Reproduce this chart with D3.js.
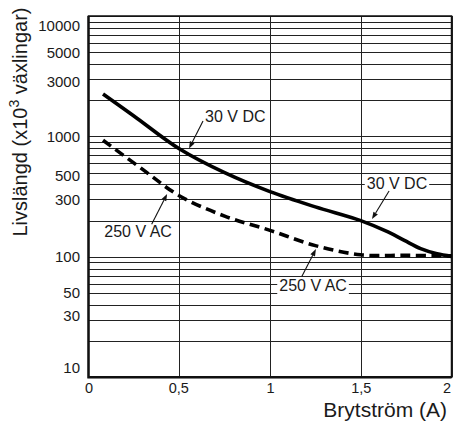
<!DOCTYPE html>
<html>
<head>
<meta charset="utf-8">
<script src="https://cdn.jsdelivr.net/npm/d3@7"></script>
<style>
  html, body { margin: 0; padding: 0; background: #fff; }
  svg { display: block; }
  text { font-family: "Liberation Sans", Arial, Helvetica, sans-serif; fill: #1a1a1a; }
</style>
</head>
<body>
<svg id="chart" width="454" height="423"></svg>
<script>
// Contact life versus switched current
const currentDC = [0.08, 0.25, 0.5, 0.75, 1.0, 1.25, 1.5, 1.65, 1.74, 1.83, 1.92, 2.0];
const life30VDC = [2250, 1480, 790, 500, 348, 260, 200, 161, 137, 117, 106, 101];

const currentAC = [0.08, 0.3, 0.5, 0.75, 1.0, 1.25, 1.5, 1.75, 2.0];
const life250VAC = [930, 530, 322, 218, 166, 124, 104, 103, 102];

const xTickValues = [0, 0.5, 1, 1.5, 2];
const yTickValues = [10, 30, 50, 100, 300, 500, 1000, 3000, 5000, 10000];

// Callouts: text at (x, value), leader from (x, value) to arrow tip (x, value)
const callouts = [
  { text: "30 V DC",  at: [0.642, 1318], from: [0.631, 1343], to: [0.554, 795] },
  { text: "30 V DC",  at: [1.533, 366],  from: [1.656, 352],  to: [1.562, 206] },
  { text: "250 V AC", at: [0.087, 146],  from: [0.348, 187],  to: [0.433, 333] },
  { text: "250 V AC", at: [1.051, 52],   from: [1.176, 69],   to: [1.253, 116] }
];

const svg = d3.select("#chart");
const W = 454, H = 423;
const margin = { top: 16, right: 2.5, bottom: 45.7, left: 88.5 };

const x = d3.scaleLinear().domain([0, 2]).range([margin.left, W - margin.right]);
const y = d3.scaleLog().domain([10, 10000]).range([H - margin.bottom, margin.top]);

// Grid
const grid = svg.append("g").attr("stroke", "#222").attr("stroke-width", 1);
grid.selectAll("line.h").data(y.ticks()).join("line")
  .attr("class", "h")
  .attr("x1", x(0)).attr("x2", x(2))
  .attr("y1", d => Math.round(y(d)) + 0.5).attr("y2", d => Math.round(y(d)) + 0.5);
grid.selectAll("line.v").data(xTickValues.slice(1)).join("line")
  .attr("class", "v")
  .attr("y1", y(10000)).attr("y2", y(10))
  .attr("x1", d => Math.round(x(d)) + 0.5).attr("x2", d => Math.round(x(d)) + 0.5);

// Frame
svg.append("rect")
  .attr("x", x(0)).attr("y", y(10000))
  .attr("width", x(2) - x(0)).attr("height", y(10) - y(10000))
  .attr("fill", "none").attr("stroke", "#111").attr("stroke-width", 1.5);
svg.append("path")
  .attr("d", `M${x(0)},${y(10000)}V${y(10)}H${x(2)}`)
  .attr("fill", "none").attr("stroke", "#111").attr("stroke-width", 2.4);

// Axes
const fmtX = d => d3.format("")(d).replace(".", ",");
const xAxis = svg.append("g")
  .attr("transform", `translate(0,${y(10)})`)
  .call(d3.axisBottom(x).tickValues(xTickValues).tickFormat(fmtX).tickSize(0).tickPadding(5));
xAxis.select(".domain").remove();
xAxis.selectAll("text").attr("font-size", 14.5).style("fill", "#1a1a1a")
  .attr("dx", d => d === 2 ? -5 : d === 0.5 ? -1 : 0);

const yAxis = svg.append("g")
  .attr("transform", `translate(${x(0)},0)`)
  .call(d3.axisLeft(y).tickValues(yTickValues).tickFormat(d3.format("d")).tickSize(0).tickPadding(8.5));
yAxis.select(".domain").remove();
yAxis.selectAll("text").attr("font-size", 15).style("fill", "#1a1a1a")
  .attr("dy", d => d === 10000 ? "0.95em" : d === 10 ? "-0.35em" : d === 3000 || d === 500 ? "0.5em" : d === 30 ? "0.05em" : "0.32em");

// Axis titles
svg.append("text")
  .attr("x", W - 7).attr("y", 416.5)
  .attr("text-anchor", "end").attr("font-size", 21)
  .text("Brytström (A)");

const yTitle = svg.append("text")
  .attr("transform", `translate(27,122) rotate(-90)`)
  .attr("text-anchor", "middle").attr("font-size", 20);
yTitle.append("tspan").text("Livslängd (x10");
yTitle.append("tspan").attr("font-size", 14).attr("dy", -8).text("3");
yTitle.append("tspan").attr("dy", 8).text(" växlingar)");

// Curves
const line = d3.line().x(d => x(d[0])).y(d => y(d[1])).curve(d3.curveCatmullRom.alpha(0.5));
svg.append("path")
  .datum(d3.zip(currentAC, life250VAC))
  .attr("d", line)
  .attr("fill", "none").attr("stroke", "#000").attr("stroke-width", 3.6)
  .attr("stroke-dasharray", "10,5.5");
svg.append("path")
  .datum(d3.zip(currentDC, life30VDC))
  .attr("d", line)
  .attr("fill", "none").attr("stroke", "#000").attr("stroke-width", 3.6);

// Callouts with leader arrows
const ann = svg.append("g");
callouts.forEach(c => {
  const t = ann.append("text")
    .attr("x", x(c.at[0])).attr("y", y(c.at[1]))
    .attr("font-size", 16).text(c.text);
  const b = t.node().getBBox();
  ann.insert("rect", () => t.node())
    .attr("x", b.x - 2).attr("y", b.y + 1)
    .attr("width", b.width + 4).attr("height", b.height - 1)
    .attr("fill", "#fff");
  const x1 = x(c.from[0]), y1 = y(c.from[1]);
  const x2 = x(c.to[0]), y2 = y(c.to[1]);
  const ang = Math.atan2(y2 - y1, x2 - x1);
  const len = 7, half = 2.6;
  const bx = x2 - len * Math.cos(ang), by = y2 - len * Math.sin(ang);
  ann.append("line")
    .attr("x1", x1).attr("y1", y1).attr("x2", bx).attr("y2", by)
    .attr("stroke", "#111").attr("stroke-width", 1.1);
  ann.append("path")
    .attr("d", `M${x2},${y2}L${bx + half * Math.sin(ang)},${by - half * Math.cos(ang)}L${bx - half * Math.sin(ang)},${by + half * Math.cos(ang)}Z`)
    .attr("fill", "#111");
});
</script>
</body>
</html>
